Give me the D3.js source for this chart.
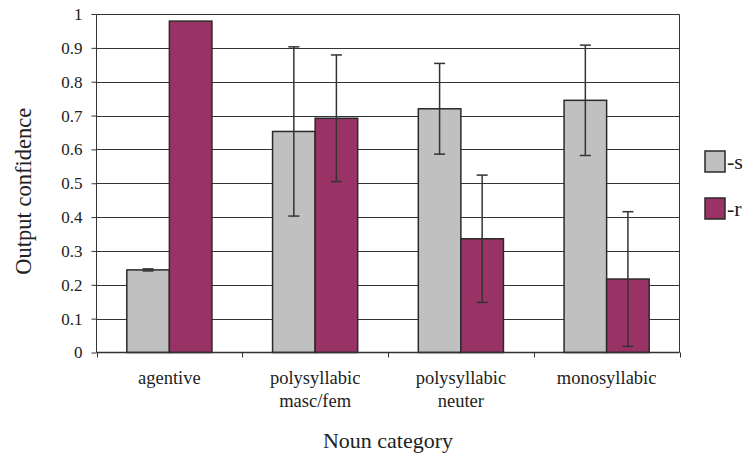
<!DOCTYPE html>
<html><head><meta charset="utf-8">
<script src="https://cdn.jsdelivr.net/npm/d3@7"></script>
<style>body{margin:0;background:#fff}svg{display:block}text{font-family:"Liberation Serif",serif;fill:#222}</style>
</head><body><svg id="c" width="750" height="458"></svg>
<script>
const categories = [["agentive"], ["polysyllabic","masc/fem"], ["polysyllabic","neuter"], ["monosyllabic"]];
const seriesNames = ["-s", "-r"];
const sValues = [0.244, 0.653, 0.720, 0.745];
const sErrors = [0.003, 0.250, 0.134, 0.163];
const rValues = [0.979, 0.692, 0.336, 0.217];
const rErrors = [0, 0.187, 0.188, 0.199];
const yTicks = [0,0.1,0.2,0.3,0.4,0.5,0.6,0.7,0.8,0.9,1];
const colors = ["#c0c0c0", "#993366"];

const svg = d3.select("#c");
const L = 96.5, R = 679.5, T = 14, B = 352.5;
const keys = categories.map((c,i)=>i);
const x0 = d3.scaleBand().domain(keys).range([L, R]).padding(0);
const bw = x0.bandwidth();
const x1 = d3.scaleBand().domain(seriesNames).range([bw*0.208, bw*0.792]).padding(0);
const y = d3.scaleLinear().domain([0,1]).range([B, T]);

// gridlines
svg.append("g").selectAll("line").data(yTicks.filter(d=>d>0)).join("line")
  .attr("x1", L).attr("x2", R).attr("y1", d=>Math.round(y(d))+0.5).attr("y2", d=>Math.round(y(d))+0.5)
  .attr("stroke", "#333").attr("stroke-width", 1);
// right border
svg.append("line").attr("x1", R).attr("x2", R).attr("y1", Math.round(y(1))+0.5).attr("y2", B)
  .attr("stroke", "#333");

// y axis
const yAxis = svg.append("g").attr("transform", `translate(${L},0)`)
  .call(d3.axisLeft(y).tickValues(yTicks).tickSize(5).tickPadding(9).tickFormat(d=>d===0||d===1?String(d):d3.format(".1f")(d)));
yAxis.attr("font-family", null).attr("font-size", null);
yAxis.select(".domain").attr("stroke","#333").attr("d", `M-0,${Math.round(y(1))+0.5}V${B}`);
yAxis.selectAll(".tick line").attr("stroke","#333");
yAxis.selectAll(".tick text").attr("font-size", 17).attr("fill","#222");

// bars
const data = keys.map(i => [
  {k:"-s", v:sValues[i], e:sErrors[i], c:0},
  {k:"-r", v:rValues[i], e:rErrors[i], c:1}
]);
const groups = svg.append("g").selectAll("g").data(data).join("g")
  .attr("transform", (d,i)=>`translate(${x0(i)},0)`);
groups.selectAll("rect").data(d=>d).join("rect")
  .attr("x", d=>x1(d.k)).attr("width", x1.bandwidth())
  .attr("y", d=>y(d.v)).attr("height", d=>B - y(d.v))
  .attr("fill", d=>colors[d.c]).attr("stroke", "#2a2a2a").attr("stroke-width", 1.5);

// error bars
const eb = groups.selectAll("g.err").data(d=>d.filter(e=>e.e>0)).join("g").attr("class","err");
const cx = d => x1(d.k) + x1.bandwidth()/2;
eb.append("line").attr("x1", cx).attr("x2", cx).attr("y1", d=>y(d.v+d.e)).attr("y2", d=>y(d.v-d.e))
  .attr("stroke","#333").attr("stroke-width",1.5);
eb.append("line").attr("x1", d=>cx(d)-5.5).attr("x2", d=>cx(d)+5.5).attr("y1", d=>y(d.v+d.e)).attr("y2", d=>y(d.v+d.e))
  .attr("stroke","#333").attr("stroke-width",1.5);
eb.append("line").attr("x1", d=>cx(d)-5.5).attr("x2", d=>cx(d)+5.5).attr("y1", d=>y(d.v-d.e)).attr("y2", d=>y(d.v-d.e))
  .attr("stroke","#333").attr("stroke-width",1.5);

// x axis
const xb = d3.scaleLinear().domain([0, categories.length]).range([L, R]);
svg.append("line").attr("x1", L).attr("x2", R).attr("y1", B).attr("y2", B).attr("stroke","#333").attr("stroke-width",1.5);
svg.append("g").selectAll("line").data(d3.range(categories.length+1)).join("line")
  .attr("x1", d=>Math.round(xb(d))+0.5).attr("x2", d=>Math.round(xb(d))+0.5).attr("y1", B).attr("y2", B+5)
  .attr("stroke","#333");
const xl = svg.append("g").selectAll("text").data(categories).join("text")
  .attr("x", (d,i)=>x0(i)+bw/2).attr("y", 384).attr("text-anchor","middle").attr("font-size", 18.5);
xl.selectAll("tspan").data(d=>d).join("tspan")
  .attr("x", function(){return this.parentNode.getAttribute("x");})
  .attr("dy", (d,i)=>i===0?0:23).text(d=>d);

// titles
svg.append("text").attr("x", (L+R)/2).attr("y", 448).attr("text-anchor","middle").attr("font-size", 22).text("Noun category");
svg.append("text").attr("transform", `translate(31,${(T+B)/2 + 8}) rotate(-90)`).attr("text-anchor","middle").attr("font-size", 22.5).text("Output confidence");

// legend
const lg = svg.append("g").selectAll("g").data(seriesNames).join("g")
  .attr("transform", (d,i)=>`translate(705,${151 + i*47})`);
lg.append("rect").attr("width", 20).attr("height", 21).attr("fill", (d,i)=>colors[i]).attr("stroke","#2a2a2a").attr("stroke-width",1.5);
lg.append("text").attr("x", 22).attr("y", 18).attr("font-size", 22).text(d=>d);
</script></body></html>
